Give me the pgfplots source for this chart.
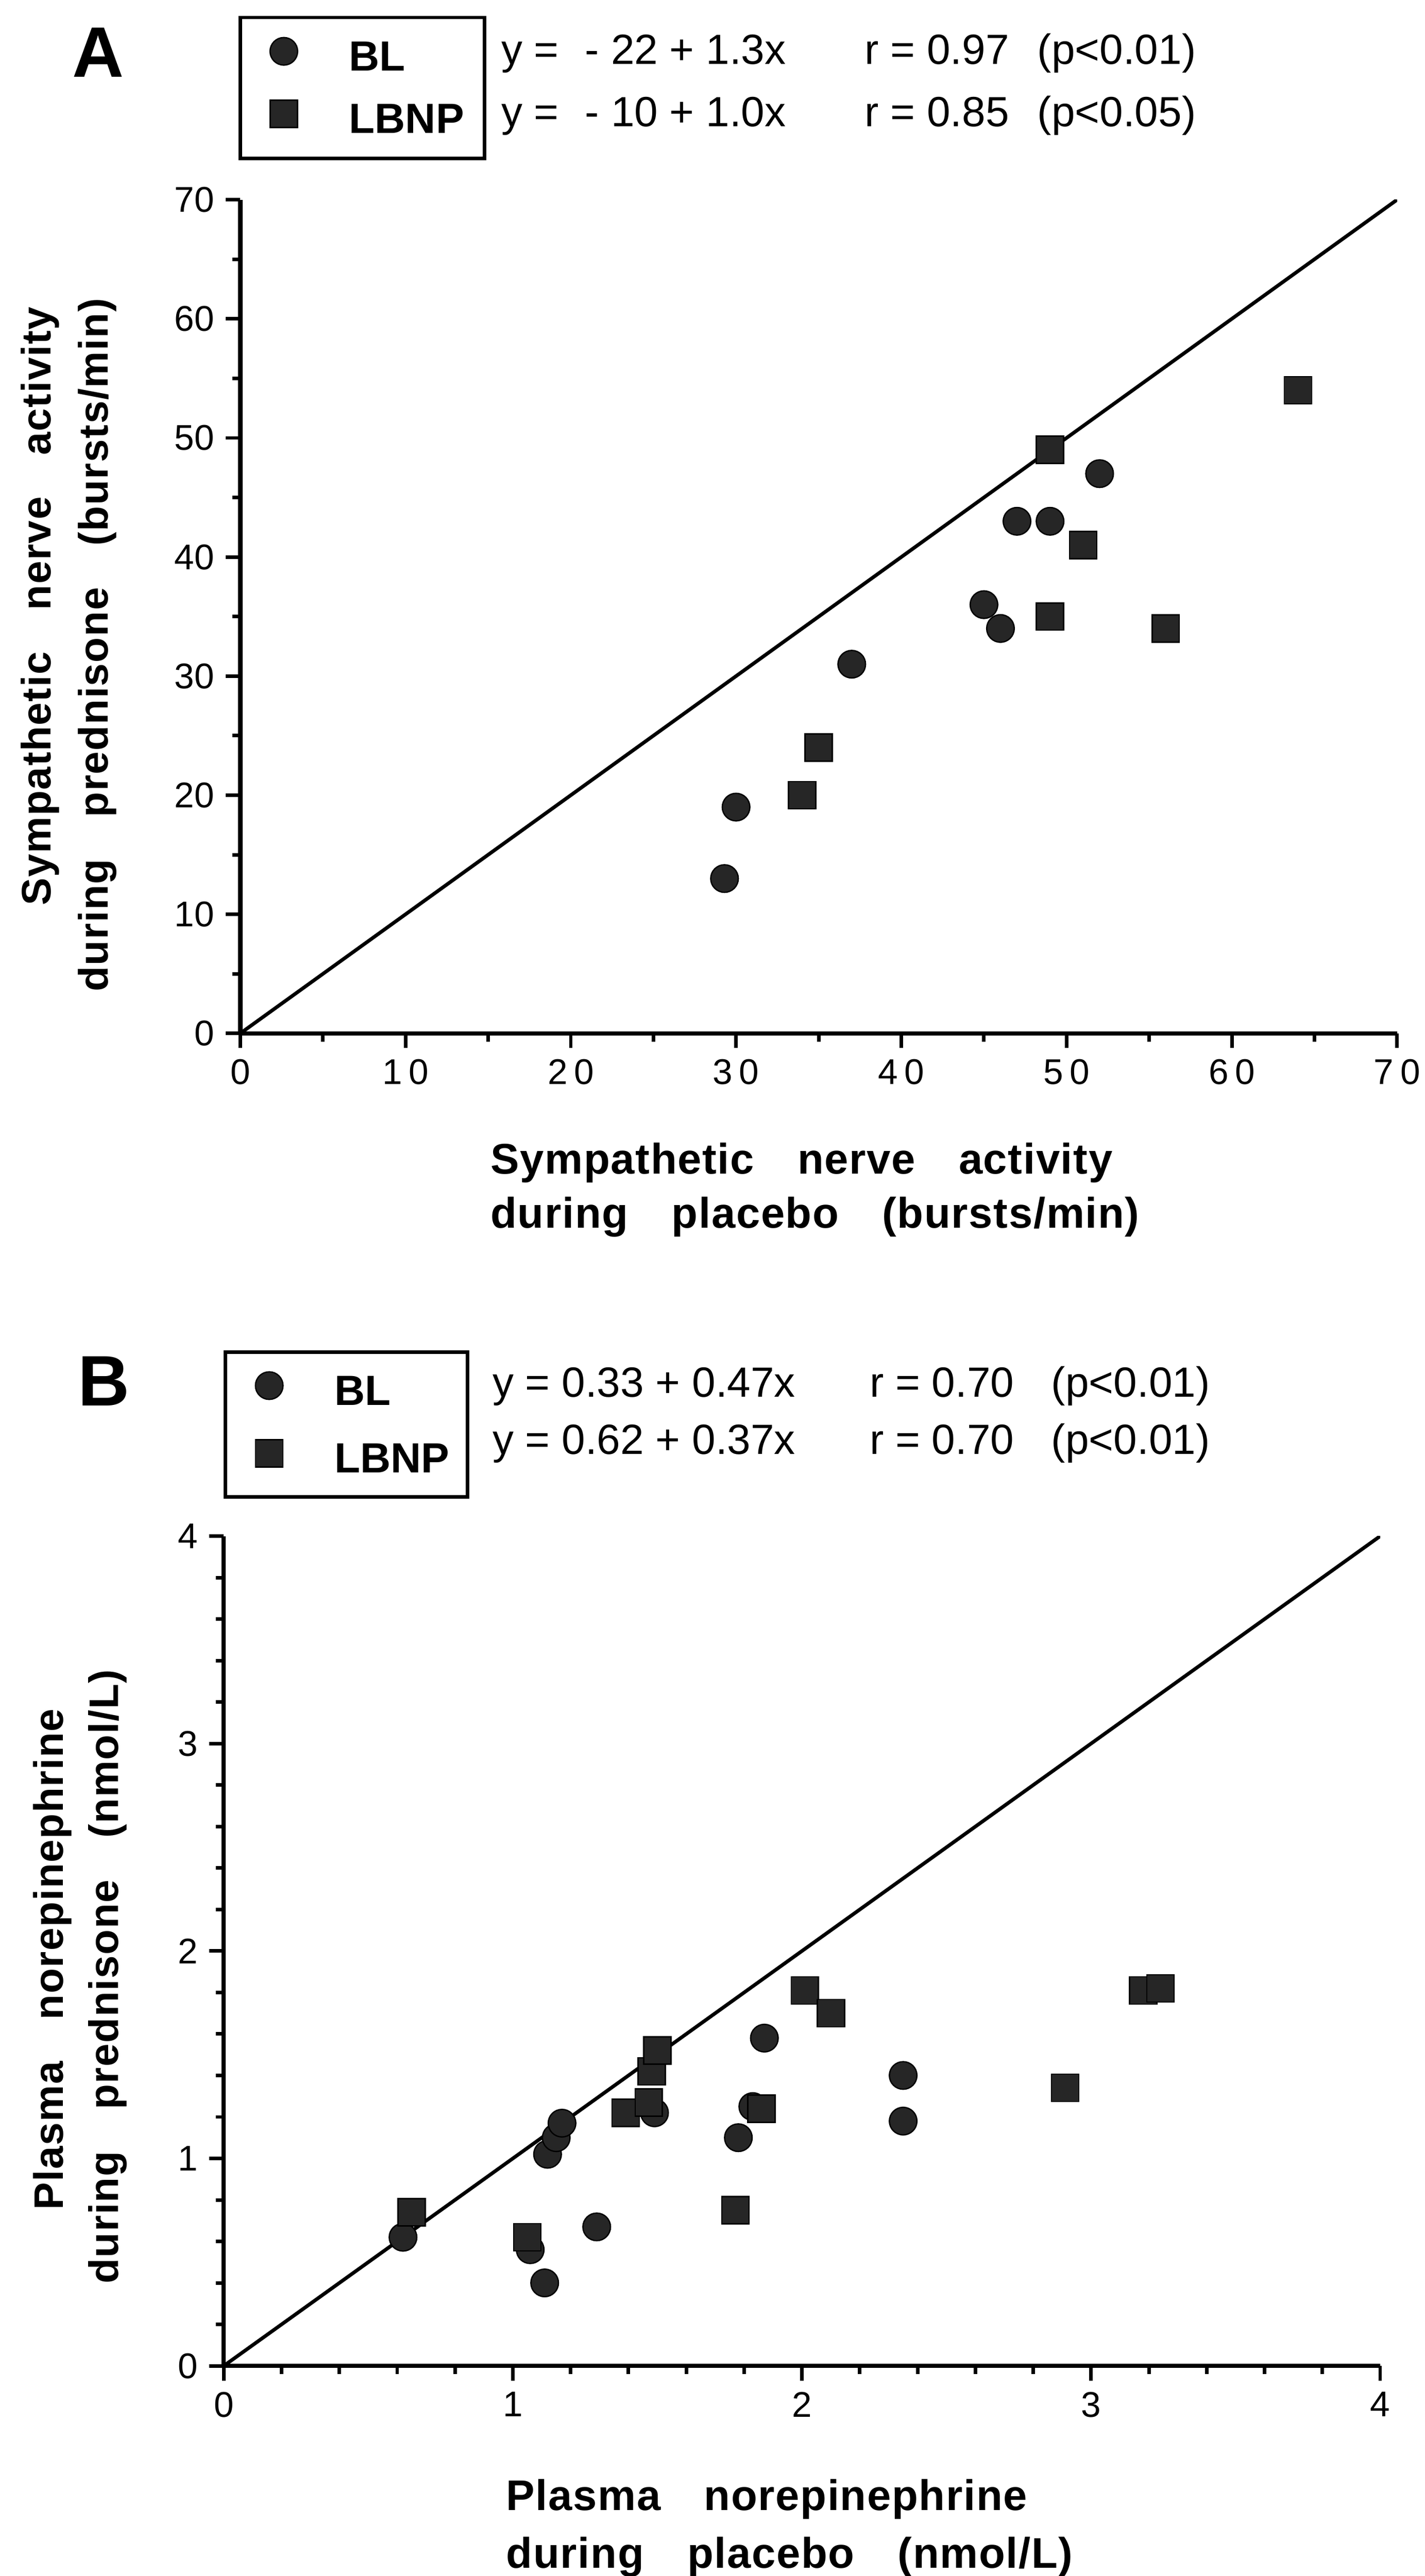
\documentclass[border=0pt]{standalone}
\usepackage{fontspec}
\setmainfont{Liberation Sans}
\newfontfamily\lblfont[WordSpace=3.4,LetterSpace=2]{Liberation Sans}
\usepackage{pgfplots}
\usepackage{pgfplotstable}
\pgfplotsset{compat=1.18}

% panel A: sympathetic nerve activity (bursts/min)
\pgfplotstableread{
x y
29.3 13
30 19
37 31
45 36
46 34
47 43
49 43
52 47
}\blA
\pgfplotstableread{
x y
34 20
35 24
49 49
51 41
49 35
56 34
64 54
}\lbnpA
% panel B: plasma norepinephrine (nmol/L)
\pgfplotstableread{
x y
0.62 0.62
1.06 0.56
1.11 0.40
1.12 1.02
1.15 1.10
1.17 1.17
1.29 0.67
1.49 1.22
1.78 1.10
1.83 1.25
1.87 1.58
2.35 1.40
2.35 1.18
}\blB
\pgfplotstableread{
x y
0.65 0.74
1.05 0.62
1.39 1.22
1.47 1.27
1.48 1.42
1.50 1.52
1.77 0.75
1.86 1.24
2.01 1.81
2.10 1.70
2.91 1.34
3.18 1.81
3.24 1.82
}\lbnpB

\newcommand\tl[2]{#1\kern2pt#2}
\newcommand\lbl{\lblfont\bfseries\fontsize{13.2}{16}\selectfont}
\newcommand\ylbl{\lblfont\bfseries\fontsize{12.7}{16}\selectfont}
\newcommand\eqf{\fontsize{13}{16}\selectfont}

\pgfplotsset{
  panel/.style={
    scale only axis,
    axis x line*=bottom, axis y line*=left,
    axis line style={line width=1.3pt},
    tick align=outside,
    major tick length=4.5pt, minor tick length=2.5pt,
    tick style={black, line width=1.1pt},
    tick label style={font=\fontsize{11}{13}\selectfont},
    /pgf/number format/assume math mode=true,
    legend image code/.code={\draw[##1] plot coordinates {(0pt,6pt)}; \path (-8pt,0pt) (8pt,0pt);},
  },
  leg/.style={
    legend style={draw=none, fill=none, inner sep=0pt, outer sep=0pt,
      column sep=11.9pt, anchor=north west,
      nodes={inner sep=0pt, outer sep=0pt},
      cells={anchor=base west},
      font=\bfseries\fontsize{13}{15}\selectfont},
  },
  bl/.style={only marks, mark=*, mark size=4.25pt,
    mark options={fill=black!85, draw=black, line width=0.4pt}},
  lbnp/.style={only marks, mark=square*, mark size=4.2pt,
    mark options={fill=black!85, draw=black, line width=0.4pt}},
  idline/.style={black, line width=1.1pt, no marks, forget plot},
}

\begin{document}
\begin{tikzpicture}
\useasboundingbox (0,0) rectangle (438.7pt,793.2pt);

% ---------- panel A ----------
\begin{axis}[panel, leg,
  at={(74.0pt,475.0pt)}, anchor=south west,
  width=356.2pt, height=256.7pt,
  xmin=0, xmax=70, ymin=0, ymax=70,
  xtick={0,10,...,70}, ytick={0,10,...,70},
  xticklabels={0,\tl10,\tl20,\tl30,\tl40,\tl50,\tl60,\tl70},
  minor x tick num=1, minor y tick num=1,
  legend style={at={(axis description cs:0.0146,1.1946)}, row sep=7.55pt},
]
\addplot[idline] coordinates {(0,0) (70,70)};
\addplot[bl] table {\blA};
\addlegendentry{BL}
\addplot[lbnp] table {\lbnpA};
\addlegendentry{LBNP}
\end{axis}

\node[anchor=base, font=\bfseries\fontsize{22}{26}\selectfont] at (30.2pt,769.5pt) {A};
\draw[line width=1.1pt] (74.0pt,744.4pt) rectangle (149.2pt,787.8pt);
\node[anchor=base west, inner sep=0pt, font=\eqf] at (154.2pt,773.4pt)
  {\makebox[111.9pt][l]{y = \hspace{4.5pt}- 22 + 1.3x}\makebox[53.2pt][l]{r = 0.97}(p<0.01)};
\node[anchor=base west, inner sep=0pt, font=\eqf] at (154.2pt,754.3pt)
  {\makebox[111.9pt][l]{y = \hspace{4.5pt}- 10 + 1.0x}\makebox[53.2pt][l]{r = 0.85}(p<0.05)};
\node[anchor=base west, inner sep=0pt, font=\lbl] at (150.9pt,431.7pt) {Sympathetic nerve activity};
\node[anchor=base west, inner sep=0pt, font=\lbl] at (150.9pt,415.1pt) {during placebo (bursts/min)};
\node[anchor=base west, inner sep=0pt, font=\ylbl, rotate=90] at (15.6pt,514.2pt) {Sympathetic nerve activity};
\node[anchor=base west, inner sep=0pt, font=\ylbl, rotate=90] at (33.3pt,487.7pt) {during prednisone (bursts/min)};

% ---------- panel B ----------
\begin{axis}[panel, leg,
  at={(68.9pt,64.7pt)}, anchor=south west,
  width=356.1pt, height=255.5pt,
  xmin=0, xmax=4, ymin=0, ymax=4,
  xtick={0,1,...,4}, ytick={0,1,...,4},
  minor x tick num=4, minor y tick num=4,
  legend style={at={(axis description cs:0.0163,1.198)}, row sep=9.15pt},
]
\addplot[idline] coordinates {(0,0) (4,4)};
\addplot[bl] table {\blB};
\addlegendentry{BL}
\addplot[lbnp] table {\lbnpB};
\addlegendentry{LBNP}
\end{axis}

\node[anchor=base, font=\bfseries\fontsize{22}{26}\selectfont] at (32.0pt,360.3pt) {B};
\draw[line width=1.1pt] (69.4pt,332.2pt) rectangle (143.9pt,376.9pt);
\node[anchor=base west, inner sep=0pt, font=\eqf] at (151.5pt,363.1pt)
  {\makebox[116.1pt][l]{y = 0.33 + 0.47x}\makebox[56pt][l]{r = 0.70}(p<0.01)};
\node[anchor=base west, inner sep=0pt, font=\eqf] at (151.5pt,345.5pt)
  {\makebox[116.1pt][l]{y = 0.62 + 0.37x}\makebox[56pt][l]{r = 0.70}(p<0.01)};
\node[anchor=base west, inner sep=0pt, font=\lbl] at (155.7pt,20.2pt) {Plasma norepinephrine};
\node[anchor=base west, inner sep=0pt, font=\lbl] at (155.7pt,2.5pt) {during placebo (nmol/L)};
\node[anchor=base west, inner sep=0pt, font=\ylbl, rotate=90] at (19.4pt,112.5pt) {Plasma norepinephrine};
\node[anchor=base west, inner sep=0pt, font=\ylbl, rotate=90] at (36.4pt,89.8pt) {during prednisone (nmol/L)};
\end{tikzpicture}
\end{document}
